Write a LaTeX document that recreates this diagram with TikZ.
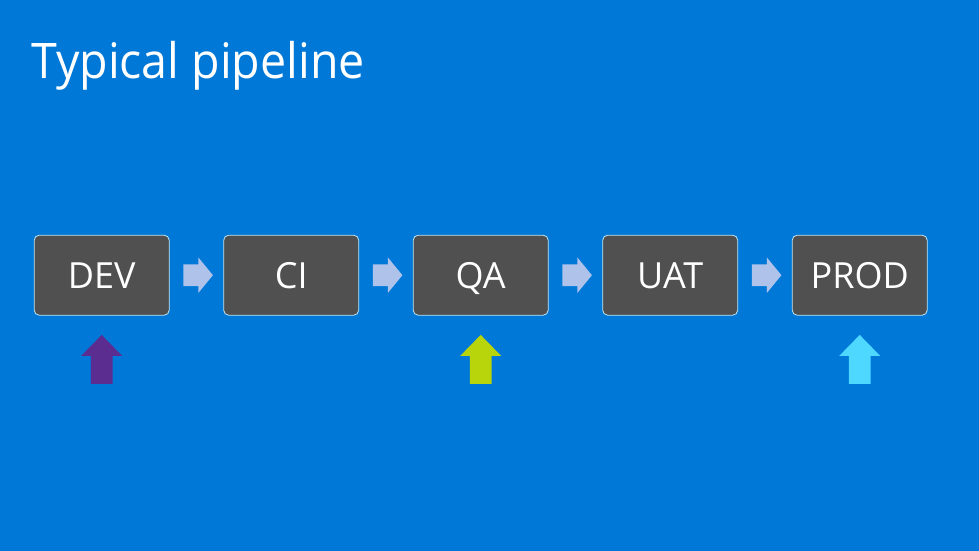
\documentclass[tikz,border=0pt]{standalone}
\usepackage{fontspec}
\setmainfont{Open Sans}
\newfontfamily\titlefont[FakeStretch=0.95]{Open Sans}
\usetikzlibrary{calc}
\definecolor{bgblue}{HTML}{0078D7}
\definecolor{boxgray}{HTML}{505050}
\definecolor{boxedge}{HTML}{BFE6F5}
\definecolor{flowarrow}{HTML}{AFC3EA}
\definecolor{devpurple}{HTML}{5C2D91}
\definecolor{qalime}{HTML}{B8D40A}
\definecolor{prodcyan}{HTML}{4FD8FF}
\tikzset{
  stagebox/.style={draw=boxedge, line width=0.8pt, fill=boxgray, rounded corners=5pt,
    minimum width=135pt, minimum height=80pt, inner sep=0pt, text=white,
    text height=26pt, text depth=0pt,
    font=\fontsize{36}{40}\selectfont},
  flowarr/.style={fill=flowarrow, draw=none},
}
\begin{document}
\begin{tikzpicture}[x=1pt,y=-1pt]
\fill[bgblue] (0,0) rectangle (979,551);
\useasboundingbox (0,0) rectangle (979,551);
\node[anchor=base west, text=white, font=\titlefont\fontsize{49}{52}\selectfont, inner sep=0pt] (title) at (31,78) {Typical pipeline};
\node[stagebox] (dev)  at (101.7,275.2) {DEV};
\node[stagebox] (ci)   at (291.2,275.2) {CI};
\node[stagebox] (qa)   at (480.7,275.2) {QA};
\node[stagebox] (uat)  at (670.2,275.2) {UAT};
\node[stagebox] (prod) at (859.7,275.2) {PROD};
\foreach \a in {dev,ci,qa,uat}{
  \fill[flowarr] ($(\a.east)+(13.7,-10.8)$) -- ++(15,0) -- ++(0,-7) -- ++(14.6,17.8)
     -- ++(-14.6,17.8) -- ++(0,-7) -- ++(-15,0) -- cycle;
}
\foreach \a/\c in {dev/devpurple,qa/qalime,prod/prodcyan}{
  \fill[\c] ($(\a.south)+(-10.8,68.3)$) -- ++(0,-28) -- ++(-9.7,0) -- ++(20.5,-21)
     -- ++(20.5,21) -- ++(-9.7,0) -- ++(0,28) -- cycle;
}
\end{tikzpicture}
\end{document}
